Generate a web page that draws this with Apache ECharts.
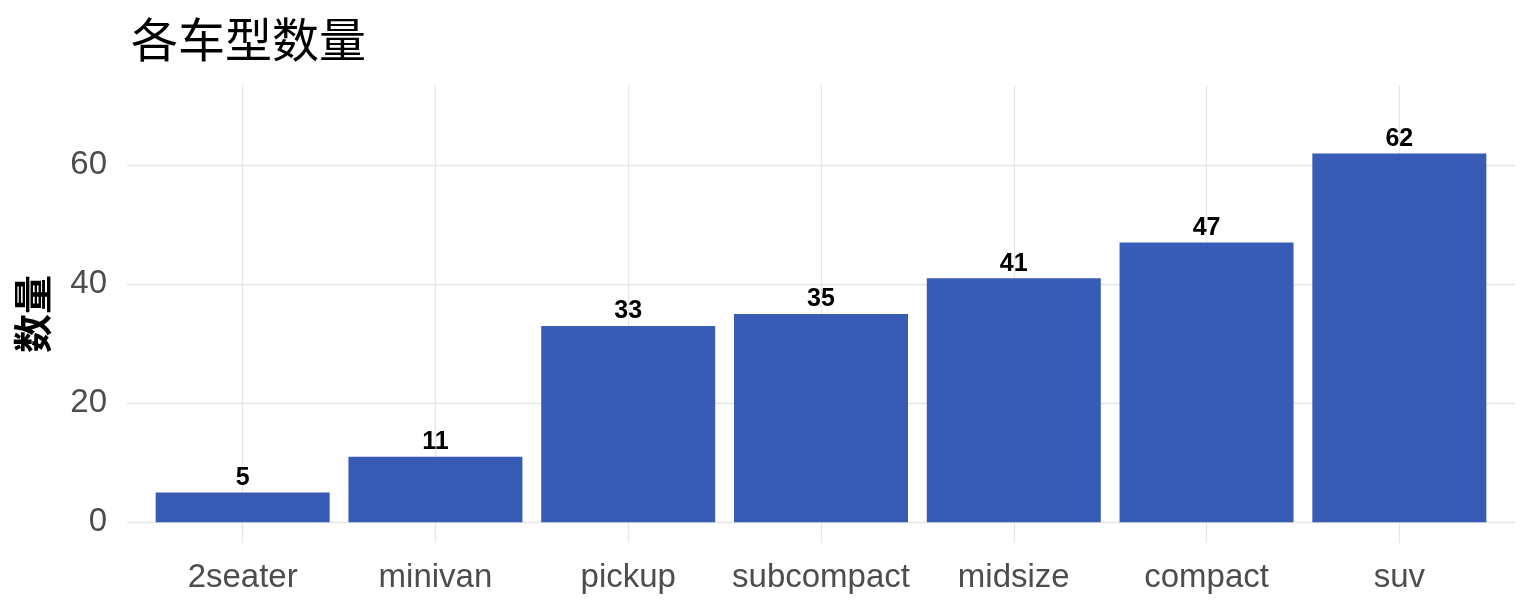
<!DOCTYPE html>
<html>
<head>
<meta charset="utf-8">
<script src="https://cdn.jsdelivr.net/npm/echarts@6/dist/echarts.min.js"></script>
<style>
  html, body { margin: 0; padding: 0; background: #fff; }
  #chart { width: 1536px; height: 614px; }
</style>
</head>
<body>
<div id="chart"></div>
<script>
// 车型及数量
var categories = ['2seater', 'minivan', 'pickup', 'subcompact', 'midsize', 'compact', 'suv'];
var counts = [5, 11, 33, 35, 41, 47, 62];
var yTicks = [0, 20, 40, 60];

var FONT = "'Liberation Sans', 'Noto Sans CJK SC', sans-serif";
var gridColor = '#e6e6e6';

var xTicks = categories.map(function (c, i) { return i; });
var barData = counts.map(function (v, i) { return [i, v]; });

var chart = echarts.init(document.getElementById('chart'));
chart.setOption({
    animation: false,
    title: {
        text: '各车型数量',
        left: 126,
        top: 16,
        textStyle: { fontFamily: FONT, fontSize: 47, fontWeight: 'normal', color: '#000' }
    },
    grid: { left: 127, right: 21, top: 85, bottom: 71 },
    xAxis: {
        type: 'value',
        min: -0.6,
        max: 6.6,
        axisLine: { show: false },
        axisTick: { show: false, customValues: xTicks },
        axisLabel: {
            customValues: xTicks,
            formatter: function (v) { return categories[Math.round(v)]; },
            fontFamily: FONT,
            fontSize: 33,
            color: '#4d4d4d',
            margin: 18
        },
        splitLine: { show: true, lineStyle: { color: gridColor, width: 1.3 } }
    },
    yAxis: {
        type: 'value',
        min: -3.5,
        max: 73.5,
        name: '数量',
        nameLocation: 'middle',
        nameRotate: 90,
        nameGap: 71,
        nameTextStyle: { fontFamily: FONT, fontSize: 39, fontWeight: 'bold', color: '#000' },
        axisLine: { show: false },
        axisTick: { show: false, customValues: yTicks },
        axisLabel: {
            customValues: yTicks,
            fontFamily: FONT,
            fontSize: 33,
            color: '#4d4d4d',
            margin: 20,
            padding: [5, 0, 0, 0]
        },
        splitLine: { show: true, lineStyle: { color: gridColor, width: 1.3 } }
    },
    series: [{
        type: 'bar',
        data: barData,
        barWidth: 174,
        itemStyle: { color: '#385BB5' },
        label: {
            show: true,
            position: 'top',
            distance: 2,
            formatter: function (p) { return p.value[1]; },
            fontFamily: FONT,
            fontSize: 25,
            fontWeight: 'bold',
            color: '#000'
        }
    }]
});
</script>
</body>
</html>
